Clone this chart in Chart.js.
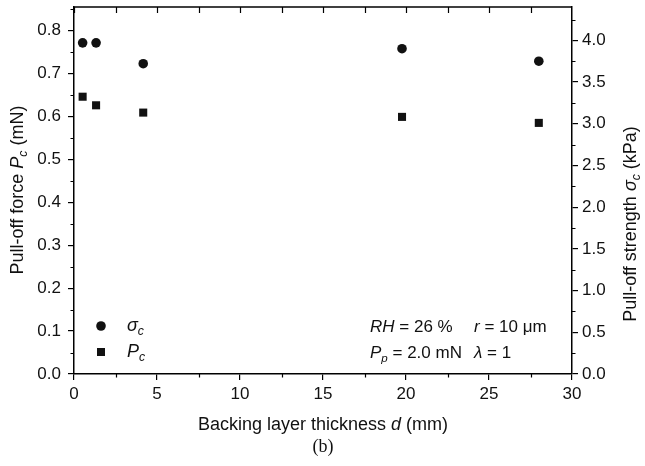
<!DOCTYPE html>
<html>
<head>
<meta charset="utf-8">
<script src="https://cdn.jsdelivr.net/npm/chart.js@4.4.0/dist/chart.umd.min.js"></script>
<style>
  html, body { margin: 0; padding: 0; background: #fff; }
  #wrap { width: 645px; height: 466px; }
</style>
</head>
<body>
<div id="wrap"><canvas id="chart"></canvas></div>
<script>
// backing layer thickness d (mm)
const thickness = [0.52, 1.33, 4.17, 19.76, 28.0];
// pull-off strength sigma_c (kPa), right axis
const strength = [3.97, 3.97, 3.72, 3.90, 3.75];
// pull-off force P_c (mN), left axis
const force = [0.646, 0.626, 0.609, 0.599, 0.585];

const xTicks = [0, 5, 10, 15, 20, 25, 30];
const leftTicks = [0, 0.1, 0.2, 0.3, 0.4, 0.5, 0.6, 0.7, 0.8];
const rightTicks = [0, 0.5, 1.0, 1.5, 2.0, 2.5, 3.0, 3.5, 4.0];

const FONT = '"Liberation Sans", Arial, sans-serif';
const INK = '#111';

// draws a run of text pieces, some italic or subscript
function richWidth(ctx, parts, size) {
  let w = 0;
  parts.forEach(p => {
    ctx.font = (p.i ? 'italic ' : '') + (p.sub ? size * 0.68 : size) + 'px ' + FONT;
    w += ctx.measureText(p.t).width;
  });
  return w;
}
function richText(ctx, parts, x, y, size) {
  let cx = x;
  parts.forEach(p => {
    ctx.font = (p.i ? 'italic ' : '') + (p.sub ? size * 0.68 : size) + 'px ' + FONT;
    ctx.fillText(p.t, cx, y + (p.sub ? size * 0.32 : 0));
    cx += ctx.measureText(p.t).width;
  });
}
function richCentered(ctx, parts, x, y, size) {
  richText(ctx, parts, x - richWidth(ctx, parts, size) / 2, y, size);
}

const decor = {
  id: 'decor',
  afterDraw(chart) {
    const ctx = chart.ctx;
    const a = chart.chartArea;
    const sx = chart.scales.x, sy = chart.scales.y, sr = chart.scales.y1;
    ctx.save();
    ctx.fillStyle = INK;
    ctx.strokeStyle = '#000';
    ctx.textBaseline = 'middle';
    ctx.textAlign = 'left';

    // top frame with inward ticks
    ctx.lineWidth = 1.5;
    ctx.beginPath();
    ctx.moveTo(a.left, a.top);
    ctx.lineTo(a.right, a.top);
    ctx.stroke();
    ctx.lineWidth = 1.2;
    ctx.beginPath();
    for (let i = 0; i < xTicks.length - 1; i++) {
      [xTicks[i], (xTicks[i] + xTicks[i + 1]) / 2].forEach(v => {
        const px = Math.round(sx.getPixelForValue(v)) + 0.5;
        ctx.moveTo(px, a.top);
        ctx.lineTo(px, a.top + 6);
      });
    }
    // minor ticks, outward
    for (let i = 0; i < xTicks.length - 1; i++) {
      const px = Math.round(sx.getPixelForValue((xTicks[i] + xTicks[i + 1]) / 2)) + 0.5;
      ctx.moveTo(px, a.bottom);
      ctx.lineTo(px, a.bottom + 3.5);
    }
    for (let i = 0; i < leftTicks.length; i++) {
      const v = leftTicks[i] + 0.05;
      if (v > sy.max) break;
      const py = Math.round(sy.getPixelForValue(v)) + 0.5;
      ctx.moveTo(a.left, py);
      ctx.lineTo(a.left - 3.5, py);
    }
    for (let i = 0; i < rightTicks.length; i++) {
      const v = rightTicks[i] + 0.25;
      if (v > sr.max) break;
      const py = Math.round(sr.getPixelForValue(v)) + 0.5;
      ctx.moveTo(a.right, py);
      ctx.lineTo(a.right + 3.5, py);
    }
    ctx.stroke();

    // axis titles
    const midX = (a.left + a.right) / 2;
    richCentered(ctx, [{t: 'Backing layer thickness '}, {t: 'd', i: true}, {t: ' (mm)'}], midX, 425, 18);

    ctx.save();
    ctx.translate(18, 190);
    ctx.rotate(-Math.PI / 2);
    richCentered(ctx, [{t: 'Pull-off force '}, {t: 'P', i: true}, {t: 'c', i: true, sub: true}, {t: ' (mN)'}], 0, 0, 18);
    ctx.restore();

    ctx.save();
    ctx.translate(631, 224);
    ctx.rotate(-Math.PI / 2);
    richCentered(ctx, [{t: 'Pull-off strength '}, {t: 'σ', i: true}, {t: 'c', i: true, sub: true}, {t: ' (kPa)'}], 0, 0, 18);
    ctx.restore();

    // legend
    ctx.beginPath();
    ctx.arc(101, 326, 4.8, 0, Math.PI * 2);
    ctx.fill();
    ctx.fillRect(97, 348, 8, 8);
    richText(ctx, [{t: 'σ', i: true}, {t: 'c', i: true, sub: true}], 127, 326, 18);
    richText(ctx, [{t: 'P', i: true}, {t: 'c', i: true, sub: true}], 127, 352, 18);

    // conditions
    richText(ctx, [{t: 'RH', i: true}, {t: ' = 26 %'}], 370, 327, 17);
    richText(ctx, [{t: 'r', i: true}, {t: ' = 10 μm'}], 474, 327, 17);
    richText(ctx, [{t: 'P', i: true}, {t: 'p', i: true, sub: true}, {t: ' = 2.0 mN'}], 370, 353, 17);
    richText(ctx, [{t: 'λ', i: true}, {t: ' = 1'}], 474, 353, 17);

    // panel label
    ctx.font = '18px "Liberation Serif", "Times New Roman", serif';
    ctx.textAlign = 'center';
    ctx.fillText('(b)', midX, 447);
    ctx.restore();
  }
};

const axisBase = {
  type: 'linear',
  grid: { drawOnChartArea: false, drawTicks: true, tickLength: 6, color: '#000', lineWidth: 1.2 },
  border: { display: true, color: '#000', width: 1.5 },
  ticks: { color: INK, font: { family: FONT, size: 17 }, padding: 4 }
};

// keep the plot frame where the reference has it
function noPad(s) {
  s.paddingTop = 0;
  s.paddingBottom = 0;
}

new Chart(document.getElementById('chart'), {
  type: 'scatter',
  data: {
    datasets: [
      {
        label: 'σc',
        data: thickness.map((d, i) => ({ x: d, y: strength[i] })),
        yAxisID: 'y1',
        pointStyle: 'circle',
        pointRadius: 4.8,
        backgroundColor: INK,
        borderColor: INK,
        borderWidth: 0
      },
      {
        label: 'Pc',
        data: thickness.map((d, i) => ({ x: d, y: force[i] })),
        yAxisID: 'y',
        pointStyle: 'rect',
        pointRadius: 5.7,
        backgroundColor: INK,
        borderColor: INK,
        borderWidth: 0
      }
    ]
  },
  options: {
    responsive: true,
    maintainAspectRatio: false,
    animation: false,
    devicePixelRatio: 1,
    layout: { padding: { top: 7, left: 0, right: 0, bottom: 0 } },
    plugins: { legend: { display: false }, tooltip: { enabled: false } },
    scales: {
      x: {
        ...axisBase,
        min: 0, max: 30,
        afterBuildTicks: s => { s.ticks = xTicks.map(v => ({ value: v })); },
        afterFit: s => { s.height = 92; s.paddingLeft = 0; s.paddingRight = 0; },
        ticks: { ...axisBase.ticks, callback: v => String(v) }
      },
      y: {
        ...axisBase,
        position: 'left',
        min: 0, max: 0.855,
        afterBuildTicks: s => { s.ticks = leftTicks.map(v => ({ value: v })); },
        afterFit: s => { s.width = 74; noPad(s); },
        ticks: { ...axisBase.ticks, padding: 7, callback: v => v.toFixed(1) }
      },
      y1: {
        ...axisBase,
        position: 'right',
        min: 0, max: 4.4,
        afterBuildTicks: s => { s.ticks = rightTicks.map(v => ({ value: v })); },
        afterFit: s => { s.width = 73; noPad(s); },
        ticks: { ...axisBase.ticks, callback: v => v.toFixed(1) }
      }
    }
  },
  plugins: [decor]
});
</script>
</body>
</html>
